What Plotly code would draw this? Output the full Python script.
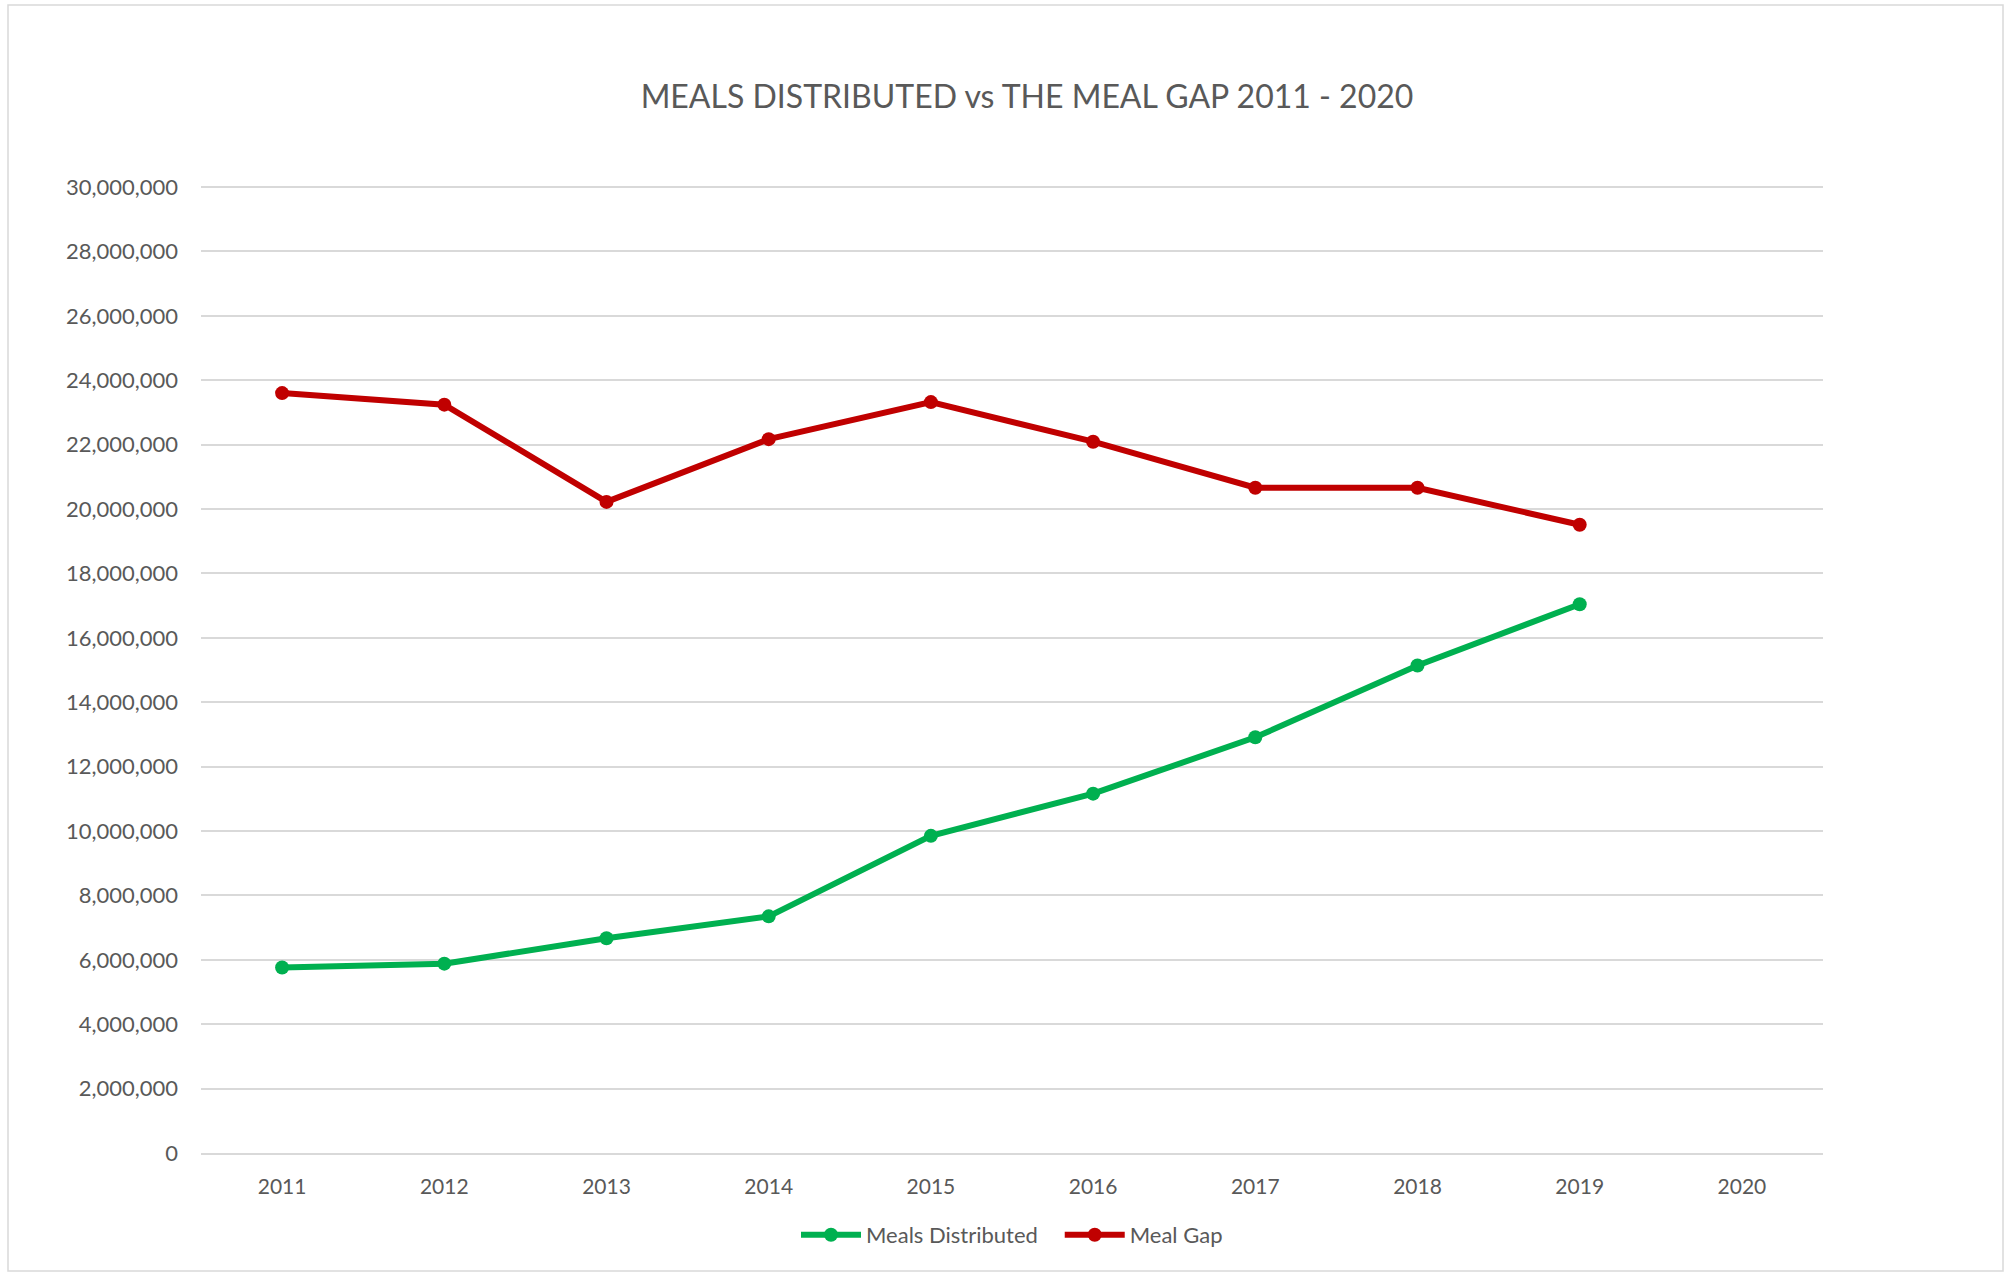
import plotly.graph_objects as go

years = ["2011", "2012", "2013", "2014", "2015", "2016", "2017", "2018", "2019", "2020"]
meals_distributed = [5760000, 5880000, 6670000, 7350000, 9850000, 11160000, 12910000, 15140000, 17040000, None]
meal_gap = [23600000, 23240000, 20220000, 22170000, 23320000, 22090000, 20660000, 20660000, 19510000, None]
y_max = 30000000
y_step = 2000000

W, H = 2007, 1274
L, R, T, B = 201, 2007 - 1823, 184, 1274 - 1153
pw, ph = W - L - R, H - T - B
y_top = y_max * ph / (1153 - 187)   # keep the 30M gridline at 187px while letting it render

font_family = "Lato, Open Sans, sans-serif"
txt = "#595959"
grid = "#d9d9d9"

fig = go.Figure()
fig.add_trace(go.Scatter(
    x=years, y=meals_distributed, name="Meals Distributed&nbsp;&nbsp;&nbsp;", mode="lines+markers",
    line=dict(color="#00b050", width=6), marker=dict(size=14, color="#00b050"),
))
fig.add_trace(go.Scatter(
    x=years, y=meal_gap, name="Meal Gap", mode="lines+markers",
    line=dict(color="#c00000", width=6), marker=dict(size=14, color="#c00000"),
))

fig.update_layout(
    width=W, height=H,
    margin=dict(l=L, r=R, t=T, b=B, autoexpand=False),
    paper_bgcolor="white", plot_bgcolor="white",
    font=dict(family=font_family, color=txt, size=22),
    title=dict(text="MEALS DISTRIBUTED vs THE MEAL GAP 2011 - 2020",
               x=1027 / W, xanchor="center", xref="container",
               y=1 - 97 / H, yanchor="middle", yref="container",
               font=dict(size=32, color=txt, family=font_family)),
    showlegend=True,
    legend=dict(orientation="h", x=0.5, xanchor="center", y=(1153 - 1235) / ph, yanchor="middle",
                font=dict(size=22, color=txt), itemwidth=60, tracegroupgap=0,
                bgcolor="rgba(0,0,0,0)"),
    xaxis=dict(type="category", categoryorder="array", categoryarray=years,
               showgrid=False, showline=True, linecolor=grid, linewidth=1.5,
               ticks="", tickfont=dict(size=21, color=txt), ticklabelstandoff=14,
               range=[-0.5, 9.5], zeroline=False),
    yaxis=dict(range=[0, y_top], dtick=y_step, tick0=0, tickformat=",",
               showgrid=True, gridcolor=grid, gridwidth=1.5, zeroline=False,
               showline=False, ticks="", tickfont=dict(size=22, color=txt),
               ticklabelstandoff=22),
    shapes=[dict(type="rect", xref="paper", yref="paper",
                 x0=(8 - L) / pw, x1=(2003 - L) / pw,
                 y0=(1153 - 1271) / ph, y1=(1153 - 5) / ph,
                 line=dict(color=grid, width=1.5), fillcolor="rgba(0,0,0,0)", layer="below")],
)

fig.write_html("out.html", config={"displayModeBar": False},
               post_script="document.body.style.margin='0px';document.body.style.overflow='hidden';")
